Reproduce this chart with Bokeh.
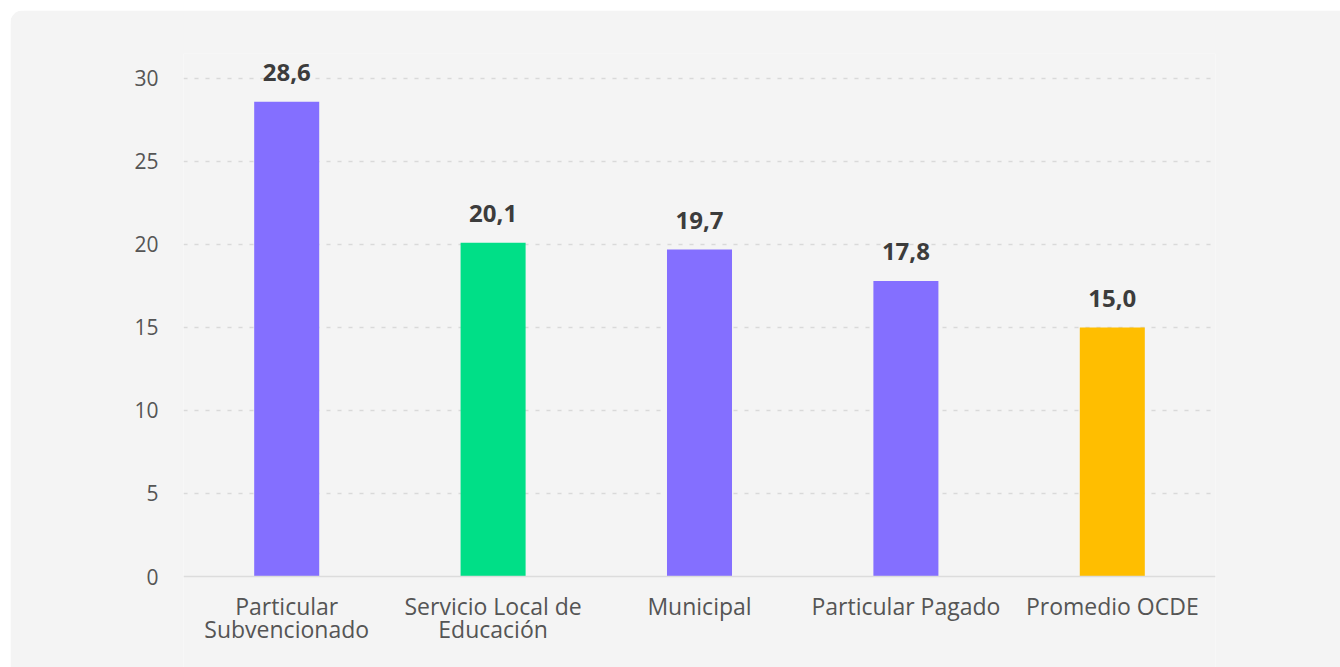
from bokeh.plotting import figure
from bokeh.models import Range1d, FactorRange, ColumnDataSource, FixedTicker, Span
from bokeh.core.properties import value
from bokeh.embed import file_html
from bokeh.resources import INLINE

categories = ["Particular Subvencionado", "Servicio Local de Educación", "Municipal",
              "Particular Pagado", "Promedio OCDE"]
label_line1 = ["Particular", "Servicio Local de", "Municipal", "Particular Pagado", "Promedio OCDE"]
label_line2 = ["Subvencionado", "Educación", "", "", ""]
values = [28.6, 20.1, 19.7, 17.8, 15.0]
value_labels = ["28,6", "20,1", "19,7", "17,8", "15,0"]
bar_colors = ["#846FFF", "#00DF87", "#846FFF", "#846FFF", "#FFBE00"]
y_ticks = [0, 5, 10, 15, 20, 25, 30]

FONT = "Open Sans"
PANEL = "#f4f4f4"
TXT = "#555555"

src = ColumnDataSource(dict(cat=categories, val=values, lab=value_labels, col=bar_colors,
                            l1=label_line1, l2=label_line2, base=[0] * len(categories)))

# frame extends below zero so that category labels can be drawn as text inside it
p = figure(x_range=FactorRange(*categories, range_padding=0), y_range=Range1d(-5.48, 31.5),
           width=1330, height=657, output_backend="svg", toolbar_location=None,
           x_axis_location=None,
           min_border_left=173, min_border_right=125, min_border_top=43, min_border_bottom=0)
p.margin = (10, 0, 0, 10)
p.styles = {"border-top-left-radius": "14px", "overflow": "hidden"}
p.background_fill_color = PANEL
p.border_fill_color = PANEL
p.outline_line_color = None

p.xgrid.grid_line_color = None
p.ygrid.ticker = FixedTicker(ticks=y_ticks[1:])
p.ygrid.grid_line_color = "#d9d9d9"
p.ygrid.grid_line_width = 1.5
p.ygrid.grid_line_dash = "4 7"

p.vbar(x="cat", top="val", bottom="base", width=0.315, source=src, fill_color="col", line_color=None)
p.add_layout(Span(location=0, dimension="width", line_color="#dcdcdc", line_width=1.5))

p.text(x="cat", y="val", text="lab", source=src, text_align="center", text_baseline="alphabetic",
       y_offset=-29, text_font=value(FONT), text_font_style="bold", text_font_size="24px",
       text_color="#3c3c3c")
for field, off in (("l1", 29), ("l2", 52)):
    p.text(x="cat", y="base", text=field, source=src, text_align="center", text_baseline="middle",
           y_offset=off, text_font=value(FONT), text_font_size="23px", text_color=TXT)

p.yaxis.ticker = FixedTicker(ticks=y_ticks)
p.yaxis.axis_line_color = None
p.yaxis.major_tick_line_color = None
p.yaxis.minor_tick_line_color = None
p.yaxis.major_tick_out = 0
p.yaxis.major_label_standoff = 25
p.yaxis.major_label_text_font = FONT
p.yaxis.major_label_text_font_size = "21px"
p.yaxis.major_label_text_color = TXT

open("out.html", "w").write(file_html(p, INLINE))
